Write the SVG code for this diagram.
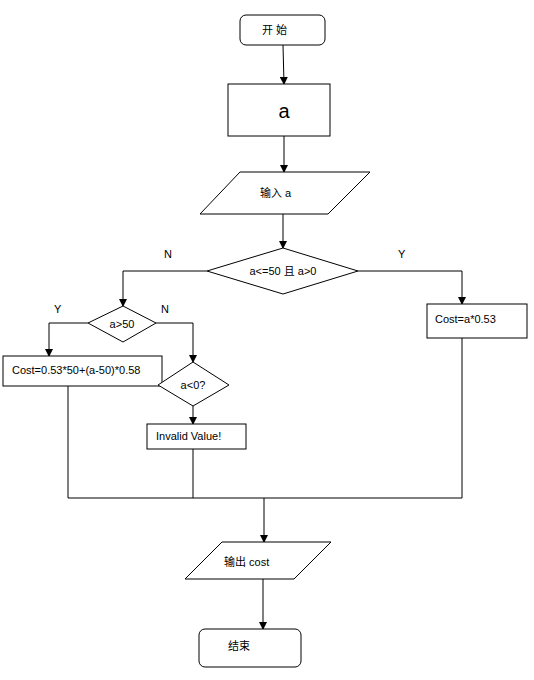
<svg xmlns="http://www.w3.org/2000/svg" width="534" height="680" viewBox="0 0 534 680">
<style>
.s{fill:#fff;stroke:#000;stroke-width:1}
.t{font-family:"Liberation Sans","Noto Sans CJK SC",sans-serif;font-size:11px;fill:#000}
.c{stroke:#000;stroke-width:1;fill:none}
</style>
<defs>
<marker id="ah" markerWidth="8" markerHeight="8" refX="7" refY="4" orient="auto" markerUnits="userSpaceOnUse">
<path d="M0,0 L8,4 L0,8 Z" fill="#000"/>
</marker>
</defs>
<rect width="534" height="680" fill="#fff"/>
<g id="connectors">
<path class="c" d="M283,45 L284,84" marker-end="url(#ah)"/>
<path class="c" d="M284,136 L284,172" marker-end="url(#ah)"/>
<path class="c" d="M283,214 L283,248" marker-end="url(#ah)"/>
<path class="c" d="M358,271 L462,271 L462,304" marker-end="url(#ah)"/>
<path class="c" d="M207,271 L123,271 L123,306" marker-end="url(#ah)"/>
<path class="c" d="M88,323 L49,323 L49,356" marker-end="url(#ah)"/>
<path class="c" d="M156,323 L193,323 L193,362" marker-end="url(#ah)"/>
<path class="c" d="M193,406 L193,424" marker-end="url(#ah)"/>
<path class="c" d="M68,386 L68,498 L462,498 L462,338"/>
<path class="c" d="M193,449 L193,498"/>
<path class="c" d="M264,498 L264,542" marker-end="url(#ah)"/>
<path class="c" d="M263,579 L263,629" marker-end="url(#ah)"/>
<text class="t" x="164" y="258">N</text>
<text class="t" x="398" y="258">Y</text>
<text class="t" x="54" y="313">Y</text>
<text class="t" x="161" y="313">N</text>
</g>
<g id="start">
<rect class="s" x="240" y="15" width="85" height="30" rx="6"/>
<text class="t" x="262" y="34">开 始</text>
</g>
<g id="a">
<rect class="s" x="228" y="84" width="102" height="52"/>
<text x="284" y="118" text-anchor="middle" style="font-family:'Liberation Sans',sans-serif;font-size:20px">a</text>
</g>
<g id="input">
<polygon class="s" points="240,172 370,172 328,214 200,214"/>
<text class="t" x="260" y="197">输入 a</text>
</g>
<g id="cond1">
<polygon class="s" points="283,248 358,271 283,294 207,271"/>
<text class="t" x="283" y="275" text-anchor="middle">a&lt;=50 且 a&gt;0</text>
</g>
<g id="cost1">
<rect class="s" x="427" y="304" width="100" height="34"/>
<text class="t" x="435" y="323">Cost=a*0.53</text>
</g>
<g id="cond2">
<polygon class="s" points="123,306 156,323 123,342 88,323"/>
<text class="t" x="122" y="328" text-anchor="middle">a&gt;50</text>
</g>
<g id="cost2">
<rect class="s" x="3" y="356" width="159" height="30"/>
<text class="t" x="12" y="374">Cost=0.53*50+(a-50)*0.58</text>
</g>
<g id="cond3">
<polygon class="s" points="193,362 229,385 193,406 158,385"/>
<text class="t" x="193" y="389" text-anchor="middle">a&lt;0?</text>
</g>
<g id="invalid">
<rect class="s" x="147" y="424" width="99" height="25"/>
<text class="t" x="156" y="440">Invalid Value!</text>
</g>
<g id="output">
<polygon class="s" points="222,542 331,542 294,579 185,579"/>
<text class="t" x="224" y="566">输出 cost</text>
</g>
<g id="end">
<rect class="s" x="199" y="629" width="102" height="38" rx="6"/>
<text class="t" x="228" y="650">结束</text>
</g>
</svg>
